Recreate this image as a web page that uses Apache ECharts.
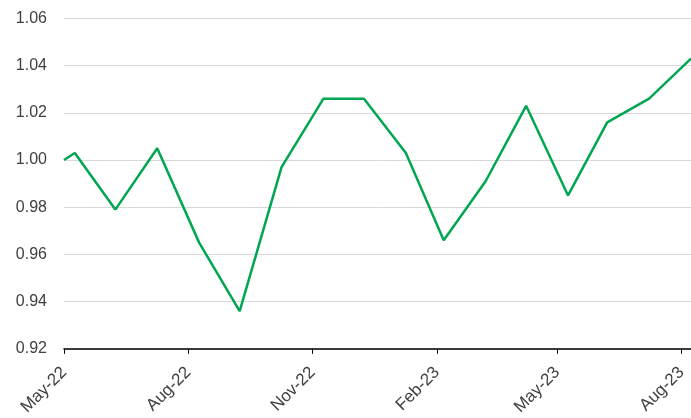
<!DOCTYPE html>
<html>
<head>
<meta charset="utf-8">
<script src="https://cdn.jsdelivr.net/npm/echarts@6/dist/echarts.min.js"></script>
<style>
html,body{margin:0;padding:0;background:#fff;}
#chart{width:691px;height:418px;}
</style>
</head>
<body>
<div id="chart"></div>
<script>
const dates = ['2022-05-01','2022-05-09','2022-06-08','2022-07-09','2022-08-09','2022-09-08','2022-10-09','2022-11-09','2022-12-09','2023-01-09','2023-02-06','2023-03-09','2023-04-08','2023-05-09','2023-06-07','2023-07-08','2023-08-08'];
const values = [1.000,1.003,0.979,1.005,0.965,0.936,0.997,1.026,1.026,1.003,0.966,0.991,1.023,0.985,1.016,1.026,1.043];
const tickDates = ['2022-05-01','2022-08-01','2022-11-01','2023-02-01','2023-05-01','2023-08-01'];
const monthNames = ['Jan','Feb','Mar','Apr','May','Jun','Jul','Aug','Sep','Oct','Nov','Dec'];

const ts = s => { const p = s.split('-').map(Number); return Date.UTC(p[0], p[1]-1, p[2]); };
const chart = echarts.init(document.getElementById('chart'));
chart.setOption({
  animation: false,
  grid: {left: 64, right: 0, top: 18.5, bottom: 67.3, containLabel: false},
  xAxis: {
    type: 'value',
    min: ts('2022-05-01'),
    max: ts('2023-08-08'),
    axisLine: {show: true, lineStyle: {color: '#000', width: 1.5}},
    axisTick: {show: true, length: 5, inside: false, customValues: tickDates.map(ts), lineStyle: {color: '#000', width: 1}},
    axisLabel: {
      customValues: tickDates.map(ts),
      rotate: 45,
      margin: 21,
      fontSize: 17,
      color: '#404040',
      fontFamily: 'Liberation Sans, Arial, sans-serif',
      formatter: v => { const d = new Date(v); return monthNames[d.getUTCMonth()] + '-' + String(d.getUTCFullYear()).slice(2); }
    },
    splitLine: {show: false}
  },
  yAxis: {
    type: 'value',
    min: 0.92,
    max: 1.06,
    interval: 0.02,
    axisLine: {show: false},
    axisTick: {show: false},
    axisLabel: {
      margin: 17,
      fontSize: 16,
      color: '#404040',
      fontFamily: 'Liberation Sans, Arial, sans-serif',
      formatter: v => v.toFixed(2)
    },
    splitLine: {show: true, lineStyle: {color: '#d9d9d9', width: 1}}
  },
  series: [{
    type: 'line',
    data: dates.map((d, i) => [ts(d), values[i]]),
    showSymbol: false,
    symbol: 'none',
    clip: false,
    lineStyle: {color: '#00A651', width: 2.5},
    itemStyle: {color: '#00A651'}
  }]
});
</script>
</body>
</html>
